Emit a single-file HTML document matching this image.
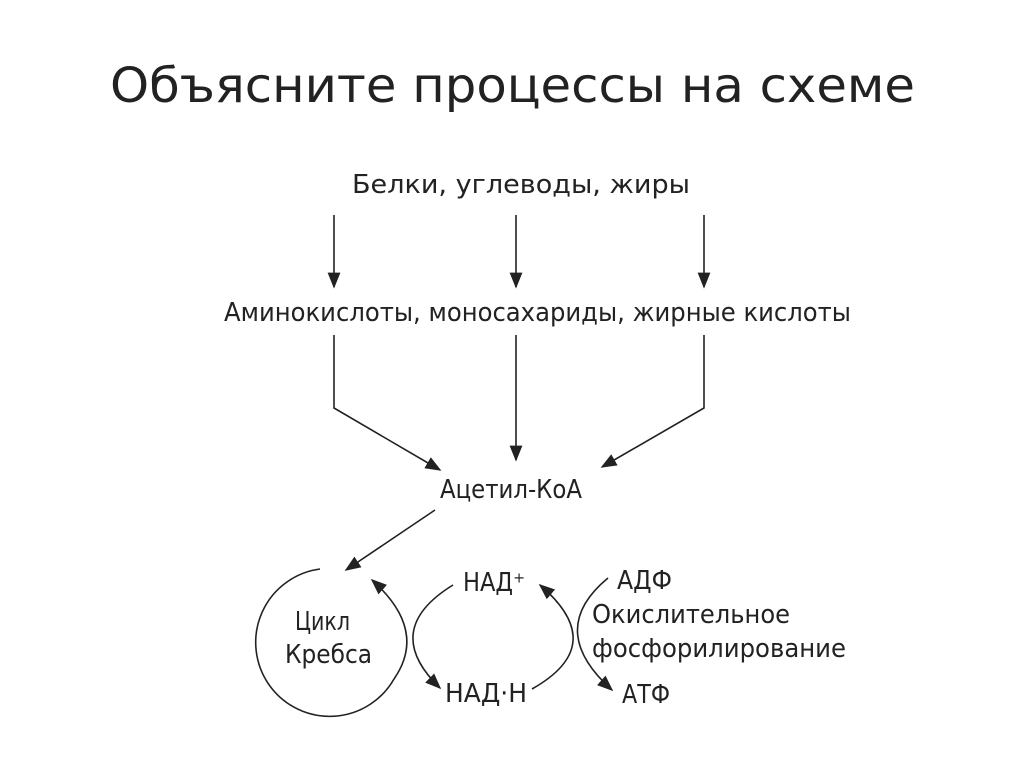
<!DOCTYPE html>
<html><head><meta charset="utf-8"><style>
body{margin:0;width:1024px;height:767px;background:#fff;overflow:hidden}
svg text{font-family:"DejaVu Sans","Liberation Sans",sans-serif;fill:#222}
</style></head><body>
<svg width="1024" height="767" viewBox="0 0 1024 767">
<defs>
<marker id="b" viewBox="0 0 10 10" refX="9" refY="5" markerWidth="16" markerHeight="16" orient="auto-start-reverse" markerUnits="userSpaceOnUse"><path d="M0,1 L10,5 L0,9 z" fill="#222"/></marker></defs>
<text x="110" y="102" font-size="48" textLength="805" lengthAdjust="spacingAndGlyphs" fill="#111">Объясните процессы на схеме</text>
<g font-size="26" fill="#333">
<text x="352" y="193" textLength="338" lengthAdjust="spacingAndGlyphs">Белки, углеводы, жиры</text>
<text x="224" y="321" textLength="627" lengthAdjust="spacingAndGlyphs">Аминокислоты, моносахариды, жирные кислоты</text>
<text x="440" y="498" textLength="142" lengthAdjust="spacingAndGlyphs">Ацетил-КоА</text>
<text x="295" y="630" textLength="55" lengthAdjust="spacingAndGlyphs">Цикл</text>
<text x="285" y="663" textLength="87" lengthAdjust="spacingAndGlyphs">Кребса</text>
<text x="463" y="591" textLength="62" lengthAdjust="spacingAndGlyphs">НАД⁺</text>
<text x="445" y="702" textLength="82" lengthAdjust="spacingAndGlyphs">НАД·Н</text>
<text x="617" y="589" textLength="55" lengthAdjust="spacingAndGlyphs">АДФ</text>
<text x="592" y="623" textLength="198" lengthAdjust="spacingAndGlyphs">Окислительное</text>
<text x="592" y="657" textLength="254" lengthAdjust="spacingAndGlyphs">фосфорилирование</text>
<text x="622" y="703" textLength="48" lengthAdjust="spacingAndGlyphs">АТФ</text>
</g>
<g stroke="#222" stroke-width="1.6" fill="none">
<line x1="334" y1="215" x2="334" y2="287" marker-end="url(#b)"/>
<line x1="516" y1="215" x2="516" y2="287" marker-end="url(#b)"/>
<line x1="704" y1="215" x2="704" y2="287" marker-end="url(#b)"/>
<path d="M334,335 V408 L440,470" marker-end="url(#b)"/>
<line x1="516" y1="335" x2="516" y2="460" marker-end="url(#b)"/>
<path d="M704,335 V408 L602,467" marker-end="url(#b)"/>
<line x1="435" y1="510" x2="346" y2="570" marker-end="url(#b)"/>
<path d="M320,569 A74,74 0 1 0 394,679"/>
<path d="M372,580 Q428,630 394,679" marker-start="url(#b)"/>
<path d="M453,585 Q380,630 440,688" marker-end="url(#b)"/>
<path d="M608,578 Q545,630 612,690" marker-end="url(#b)"/>
<path d="M532,689 Q610,645 540,585" marker-end="url(#b)"/>
</g>
</svg>
</body></html>
